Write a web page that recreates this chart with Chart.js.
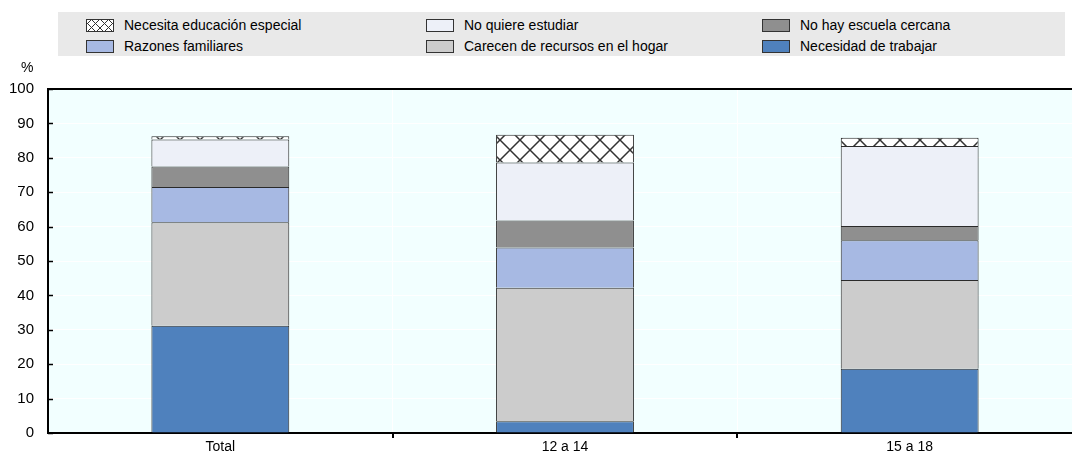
<!DOCTYPE html>
<html>
<head>
<meta charset="utf-8">
<script src="https://cdn.jsdelivr.net/npm/chart.js@4"></script>
<style>
  body { margin: 0; background: #fff; font-family: "Liberation Sans", Arial, sans-serif; }
  #wrap { position: relative; width: 1072px; height: 456px; overflow: hidden; }
  #chart { position: absolute; left: 0; top: 0; }
  #legend { position: absolute; left: 58px; top: 12px; width: 1007px; height: 44px; background: #e9e9e9; }
  .item { position: absolute; font-size: 14px; color: #000; line-height: 16px; }
  .sw { position: absolute; left: -38px; top: 2px; width: 26px; height: 11px; border: 1px solid #333; }
  #pct { position: absolute; left: 21px; top: 59px; font-size: 14px; }
</style>
</head>
<body>
<div id="wrap">
  <canvas id="chart" width="1085" height="456"></canvas>
  <div id="legend"></div>
  <div id="pct">%</div>
</div>
<script>
const categories = ['Total', '12 a 14', '15 a 18'];
const necesidadTrabajar = [31.2, 3.4, 18.7];
const carecenRecursos = [30.1, 38.8, 25.8];
const razonesFamiliares = [10.2, 11.7, 11.5];
const noHayEscuela = [6.0, 7.9, 4.2];
const noQuiereEstudiar = [7.8, 16.8, 23.2];
const educacionEspecial = [1.0, 8.1, 2.4];

// diamond hatch for "Necesita educación especial"
function makeHatch() {
  const c = document.createElement('canvas');
  c.width = 20; c.height = 20;
  const g = c.getContext('2d');
  g.fillStyle = '#fff';
  g.fillRect(0, 0, 20, 20);
  g.strokeStyle = '#333';
  g.lineWidth = 1.5;
  g.beginPath();
  g.moveTo(0, 0); g.lineTo(20, 20);
  g.moveTo(20, 0); g.lineTo(0, 20);
  g.stroke();
  return g.createPattern(c, 'repeat');
}
const hatch = makeHatch();

const series = [
  { label: 'Necesidad de trabajar', data: necesidadTrabajar, color: '#4f81bd' },
  { label: 'Carecen de recursos en el hogar', data: carecenRecursos, color: '#cccccc' },
  { label: 'Razones familiares', data: razonesFamiliares, color: '#a7b9e3' },
  { label: 'No hay escuela cercana', data: noHayEscuela, color: '#8f8f8f' },
  { label: 'No quiere estudiar', data: noQuiereEstudiar, color: '#edf0f8' },
  { label: 'Necesita educación especial', data: educacionEspecial, color: hatch }
];

// legend, 3 columns x 2 rows
const legendOrder = [
  ['Necesita educación especial', 66, 5, 'hatch'],
  ['No quiere estudiar', 406, 5, '#edf0f8'],
  ['No hay escuela cercana', 742, 5, '#8f8f8f'],
  ['Razones familiares', 66, 26, '#a7b9e3'],
  ['Carecen de recursos en el hogar', 406, 26, '#cccccc'],
  ['Necesidad de trabajar', 742, 26, '#4f81bd']
];
const legend = document.getElementById('legend');
legendOrder.forEach(([text, x, y, col]) => {
  const it = document.createElement('div');
  it.className = 'item';
  it.style.left = x + 'px';
  it.style.top = y + 'px';
  const sw = document.createElement('span');
  sw.className = 'sw';
  if (col === 'hatch') {
    sw.style.backgroundImage = 'repeating-linear-gradient(45deg, transparent 0 5px, #333 5px 6px), repeating-linear-gradient(-45deg, transparent 0 5px, #333 5px 6px)';
    sw.style.backgroundColor = '#fff';
  } else {
    sw.style.background = col;
  }
  it.appendChild(sw);
  it.appendChild(document.createTextNode(text));
  legend.appendChild(it);
});

const plotDeco = {
  id: 'plotDeco',
  beforeDraw(chart) {
    const a = chart.chartArea;
    const ctx = chart.ctx;
    ctx.save();
    ctx.fillStyle = '#f2ffff';
    ctx.fillRect(a.left, a.top, a.right - a.left, a.bottom - a.top);
    ctx.restore();
  },
  afterDraw(chart) {
    const a = chart.chartArea;
    const ctx = chart.ctx;
    const y = chart.scales.y;
    const x = chart.scales.x;
    ctx.save();
    ctx.strokeStyle = '#000';
    ctx.lineWidth = 2;
    ctx.beginPath();
    ctx.moveTo(a.left - 1, a.top);
    ctx.lineTo(a.right, a.top);
    ctx.stroke();
    // category separators below the axis
    for (let i = 1; i < categories.length; i++) {
      const px = Math.round((x.getPixelForValue(i - 1) + x.getPixelForValue(i)) / 2);
      ctx.beginPath();
      ctx.moveTo(px, a.bottom);
      ctx.lineTo(px, a.bottom + 5);
      ctx.stroke();
    }
    ctx.lineWidth = 1.5;
    y.ticks.forEach(t => {
      const py = Math.round(y.getPixelForValue(t.value)) + 0.5;
      ctx.beginPath();
      ctx.moveTo(a.left, py);
      ctx.lineTo(a.left + 5, py);
      ctx.stroke();
    });
    ctx.restore();
  }
};

new Chart(document.getElementById('chart'), {
  type: 'bar',
  data: {
    labels: categories,
    datasets: series.map(s => ({
      label: s.label,
      data: s.data,
      backgroundColor: s.color,
      borderColor: '#2a2a2a',
      borderWidth: 1,
      barPercentage: 0.4,
      categoryPercentage: 1
    }))
  },
  options: {
    responsive: false,
    animation: false,
    layout: { padding: { top: 89, right: 3, left: 0, bottom: 0 } },
    plugins: {
      legend: { display: false },
      tooltip: { enabled: false }
    },
    scales: {
      x: {
        stacked: true,
        afterFit: s => { s.height = 22; },
        grid: { offset: true, color: '#ffffff', lineWidth: 1, drawTicks: false },
        border: { color: '#000', width: 2 },
        ticks: { color: '#000', padding: 6, font: { family: 'Liberation Sans', size: 14 } }
      },
      y: {
        stacked: true,
        min: 0,
        max: 100,
        afterFit: s => { s.width = 48; },
        grid: { color: '#ffffff', lineWidth: 1, drawTicks: false },
        border: { color: '#000', width: 2 },
        ticks: { stepSize: 10, color: '#000', padding: 14, font: { family: 'Liberation Sans', size: 15 } }
      }
    }
  },
  plugins: [plotDeco]
});
</script>
</body>
</html>
